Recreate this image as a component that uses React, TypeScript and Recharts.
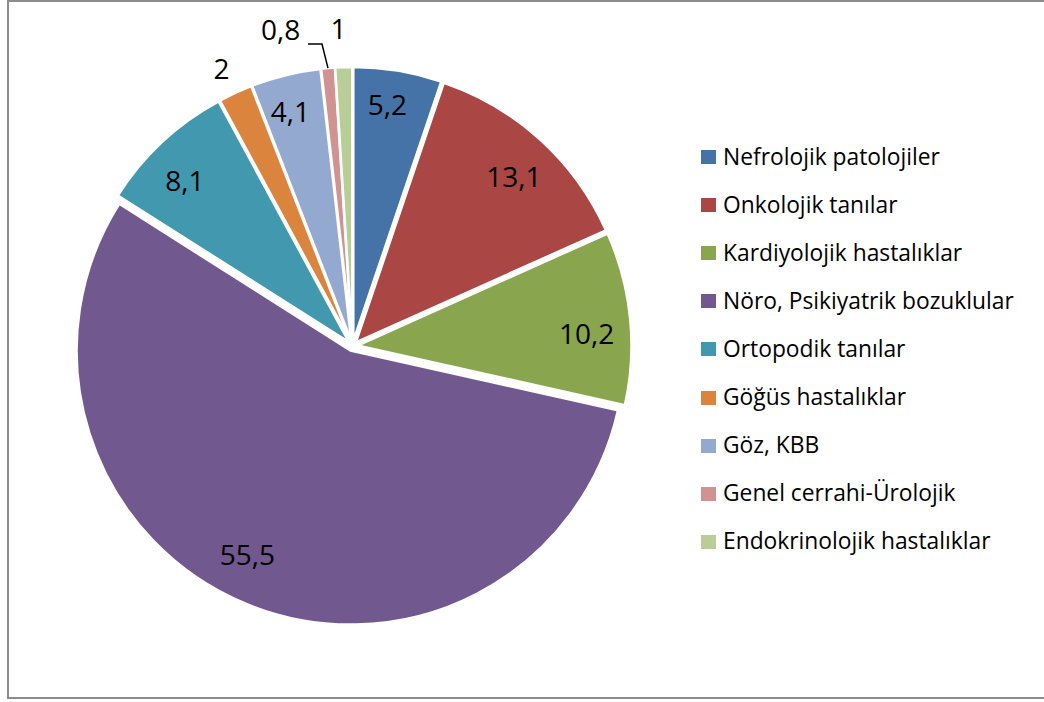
import React from 'react'
import { PieChart, Pie, Cell, Legend, Sector } from 'recharts'

const categories = [
  'Nefrolojik patolojiler',
  'Onkolojik tanılar',
  'Kardiyolojik hastalıklar',
  'Nöro, Psikiyatrik bozuklular',
  'Ortopodik tanılar',
  'Göğüs hastalıklar',
  'Göz, KBB',
  'Genel cerrahi-Ürolojik',
  'Endokrinolojik hastalıklar',
]
const values = [5.2, 13.1, 10.2, 55.5, 8.1, 2, 4.1, 0.8, 1]
const labels = ['5,2', '13,1', '10,2', '55,5', '8,1', '2', '4,1', '0,8', '1']
const colors = ['#4572A7', '#AA4643', '#89A54E', '#71588F', '#4198AF', '#DB843D', '#93A9CF', '#D19392', '#B9CD96']

const data = categories.map((name, i) => ({ name, value: values[i] }))

const RAD = Math.PI / 180
const FONT = '"Open Sans", Lato, sans-serif'
const EXPLODE = 5

// label placement (styling only): radius relative to outer edge, and a small nudge
const labelRadius = [0.87, 0.87, 0.87, 0.87, 0.87, 1.12, 0.87, 1.16, 1.16]
const labelNudge = [[-4, -7], [1, 6], [-3, 11], [-14, -12], [-5, 8], [-2, 0], [-5, -4], [-44, 0], [-4, 0]]

const ExplodedSlice = (props: any) => {
  const { cx, cy, midAngle } = props
  const dx = EXPLODE * Math.cos(-midAngle * RAD)
  const dy = EXPLODE * Math.sin(-midAngle * RAD)
  return <Sector {...props} cx={cx + dx} cy={cy + dy} />
}

const renderLabel = (p: any) => {
  const { cx, cy, midAngle, outerRadius, index } = p
  const r = outerRadius * labelRadius[index]
  const x = cx + r * Math.cos(-midAngle * RAD) + labelNudge[index][0]
  const y = cy + r * Math.sin(-midAngle * RAD) + labelNudge[index][1]
  return (
    <text x={x} y={y} textAnchor="middle" dominantBaseline="central"
      fill="#000" fontSize={28} fontFamily={FONT}>
      {labels[index]}
    </text>
  )
}

const renderLabelLine = (p: any) => {
  const { cx, cy, midAngle, outerRadius, index } = p
  if (index !== 7) return <g />
  const cos = Math.cos(-midAngle * RAD)
  const sin = Math.sin(-midAngle * RAD)
  const x0 = cx + (outerRadius + EXPLODE) * cos
  const y0 = cy + (outerRadius + EXPLODE) * sin
  const x1 = x0 - 6
  const y1 = y0 - 24
  return <polyline points={`${x0},${y0} ${x1},${y1} ${x1 - 14},${y1}`} fill="none" stroke="#000" strokeWidth={1.5} />
}

const LegendContent = () => (
  <div style={{ fontFamily: FONT, fontSize: 22.8, color: '#000', lineHeight: 1 }}>
    {categories.map((c, i) => (
      <div key={c} style={{ display: 'flex', alignItems: 'center', height: 48.1 }}>
        <span style={{ width: 15, height: 14, background: colors[i], display: 'inline-block', marginRight: 7 }} />
        <span>{c}</span>
      </div>
    ))}
  </div>
)

export default function App() {
  return (
    <div style={{
      position: 'absolute', left: 7, top: 0, width: 1050, height: 699,
      border: '2px solid #8c8c8c', boxSizing: 'border-box', background: '#fff',
    }}>
      <PieChart width={1046} height={695}>
        <Pie
          data={data}
          dataKey="value"
          nameKey="name"
          cx={338.5}
          cy={339}
          outerRadius={274}
          startAngle={90}
          endAngle={-270}
          stroke="#fff"
          strokeWidth={2.5}
          shape={ExplodedSlice}
          label={renderLabel}
          labelLine={renderLabelLine}
          isAnimationActive={false}
        >
          {data.map((d, i) => (
            <Cell key={d.name} fill={colors[i]} />
          ))}
        </Pie>
        <Legend
          layout="vertical"
          content={<LegendContent />}
          wrapperStyle={{ left: 692, top: 131, width: 345 }}
        />
      </PieChart>
    </div>
  )
}
